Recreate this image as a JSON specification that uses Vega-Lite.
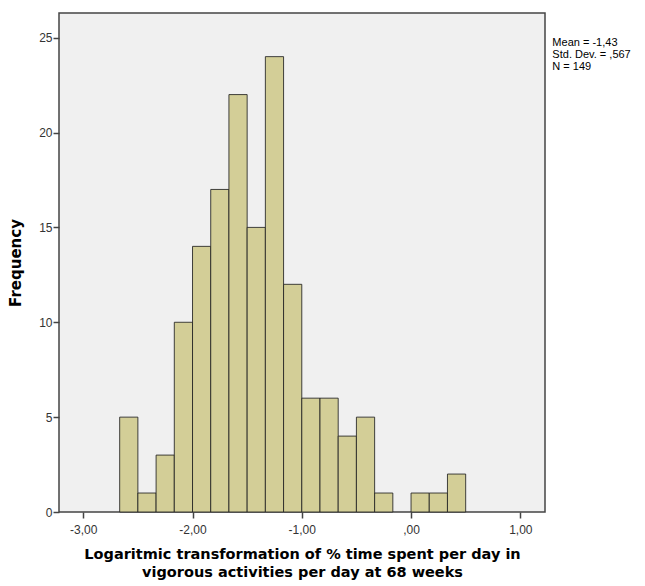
{
  "$schema": "https://vega.github.io/schema/vega-lite/v6.json",
  "autosize": "none",
  "width": 486,
  "height": 499,
  "padding": {"left": 59, "top": 13, "right": 100, "bottom": 74},
  "background": "white",
  "config": {
    "view": {"fill": "#F0F0F0", "stroke": "#444444", "strokeWidth": 1.5},
    "font": "Liberation Sans"
  },
  "title": {
    "text": ["Mean = -1,43", "Std. Dev. = ,567", "N = 149"],
    "orient": "right",
    "anchor": "start",
    "angle": 0,
    "align": "left",
    "baseline": "top",
    "font": "Liberation Sans",
    "fontSize": 11,
    "fontWeight": "normal",
    "color": "#000000",
    "lineHeight": 12,
    "offset": 7,
    "dx": -78,
    "dy": 24
  },
  "data": {
    "values": [
      {"bin_start": -2.6667, "bin_end": -2.5, "count": 5},
      {"bin_start": -2.5, "bin_end": -2.3333, "count": 1},
      {"bin_start": -2.3333, "bin_end": -2.1667, "count": 3},
      {"bin_start": -2.1667, "bin_end": -2.0, "count": 10},
      {"bin_start": -2.0, "bin_end": -1.8333, "count": 14},
      {"bin_start": -1.8333, "bin_end": -1.6667, "count": 17},
      {"bin_start": -1.6667, "bin_end": -1.5, "count": 22},
      {"bin_start": -1.5, "bin_end": -1.3333, "count": 15},
      {"bin_start": -1.3333, "bin_end": -1.1667, "count": 24},
      {"bin_start": -1.1667, "bin_end": -1.0, "count": 12},
      {"bin_start": -1.0, "bin_end": -0.8333, "count": 6},
      {"bin_start": -0.8333, "bin_end": -0.6667, "count": 6},
      {"bin_start": -0.6667, "bin_end": -0.5, "count": 4},
      {"bin_start": -0.5, "bin_end": -0.3333, "count": 5},
      {"bin_start": -0.3333, "bin_end": -0.1667, "count": 1},
      {"bin_start": 0.0, "bin_end": 0.1667, "count": 1},
      {"bin_start": 0.1667, "bin_end": 0.3333, "count": 1},
      {"bin_start": 0.3333, "bin_end": 0.5, "count": 2}
    ]
  },
  "mark": {"type": "rect", "fill": "#D3CE97", "stroke": "#222222", "strokeWidth": 1, "strokeOpacity": 0.85},
  "encoding": {
    "x": {
      "field": "bin_start",
      "type": "quantitative",
      "scale": {"domain": [-3.222, 1.226], "nice": false, "zero": false},
      "axis": {
        "values": [-3, -2, -1, 0, 1],
        "labelExpr": "datum.value == 0 ? ',00' : replace(replace(format(datum.value, '.2f'), '.', ','), '\u2212', '-')",
        "grid": false,
        "domain": false,
        "ticks": true,
        "tickSize": 6,
        "tickColor": "#444444",
        "tickWidth": 1.5,
        "labelFont": "Liberation Sans",
        "labelFontSize": 12,
        "labelColor": "#333333",
        "labelPadding": 6,
        "title": ["Logaritmic transformation of % time spent per day in", "vigorous activities per day at 68 weeks"],
        "titleFont": "DejaVu Sans",
        "titleFontSize": 14.5,
        "titleFontWeight": "bold",
        "titleColor": "#000000",
        "titleLineHeight": 18,
        "titlePadding": 12
      }
    },
    "x2": {"field": "bin_end"},
    "y": {
      "field": "count",
      "type": "quantitative",
      "scale": {"domain": [0, 26.3], "nice": false},
      "axis": {
        "values": [0, 5, 10, 15, 20, 25],
        "grid": false,
        "domain": false,
        "tickSize": 6,
        "tickColor": "#444444",
        "tickWidth": 1.5,
        "labelFont": "Liberation Sans",
        "labelFontSize": 12,
        "labelColor": "#333333",
        "labelPadding": 1,
        "title": "Frequency",
        "titleFont": "DejaVu Sans",
        "titleFontSize": 15,
        "titleFontWeight": "bold",
        "titleColor": "#000000",
        "titlePadding": 15
      }
    },
    "y2": {"datum": 0}
  }
}
